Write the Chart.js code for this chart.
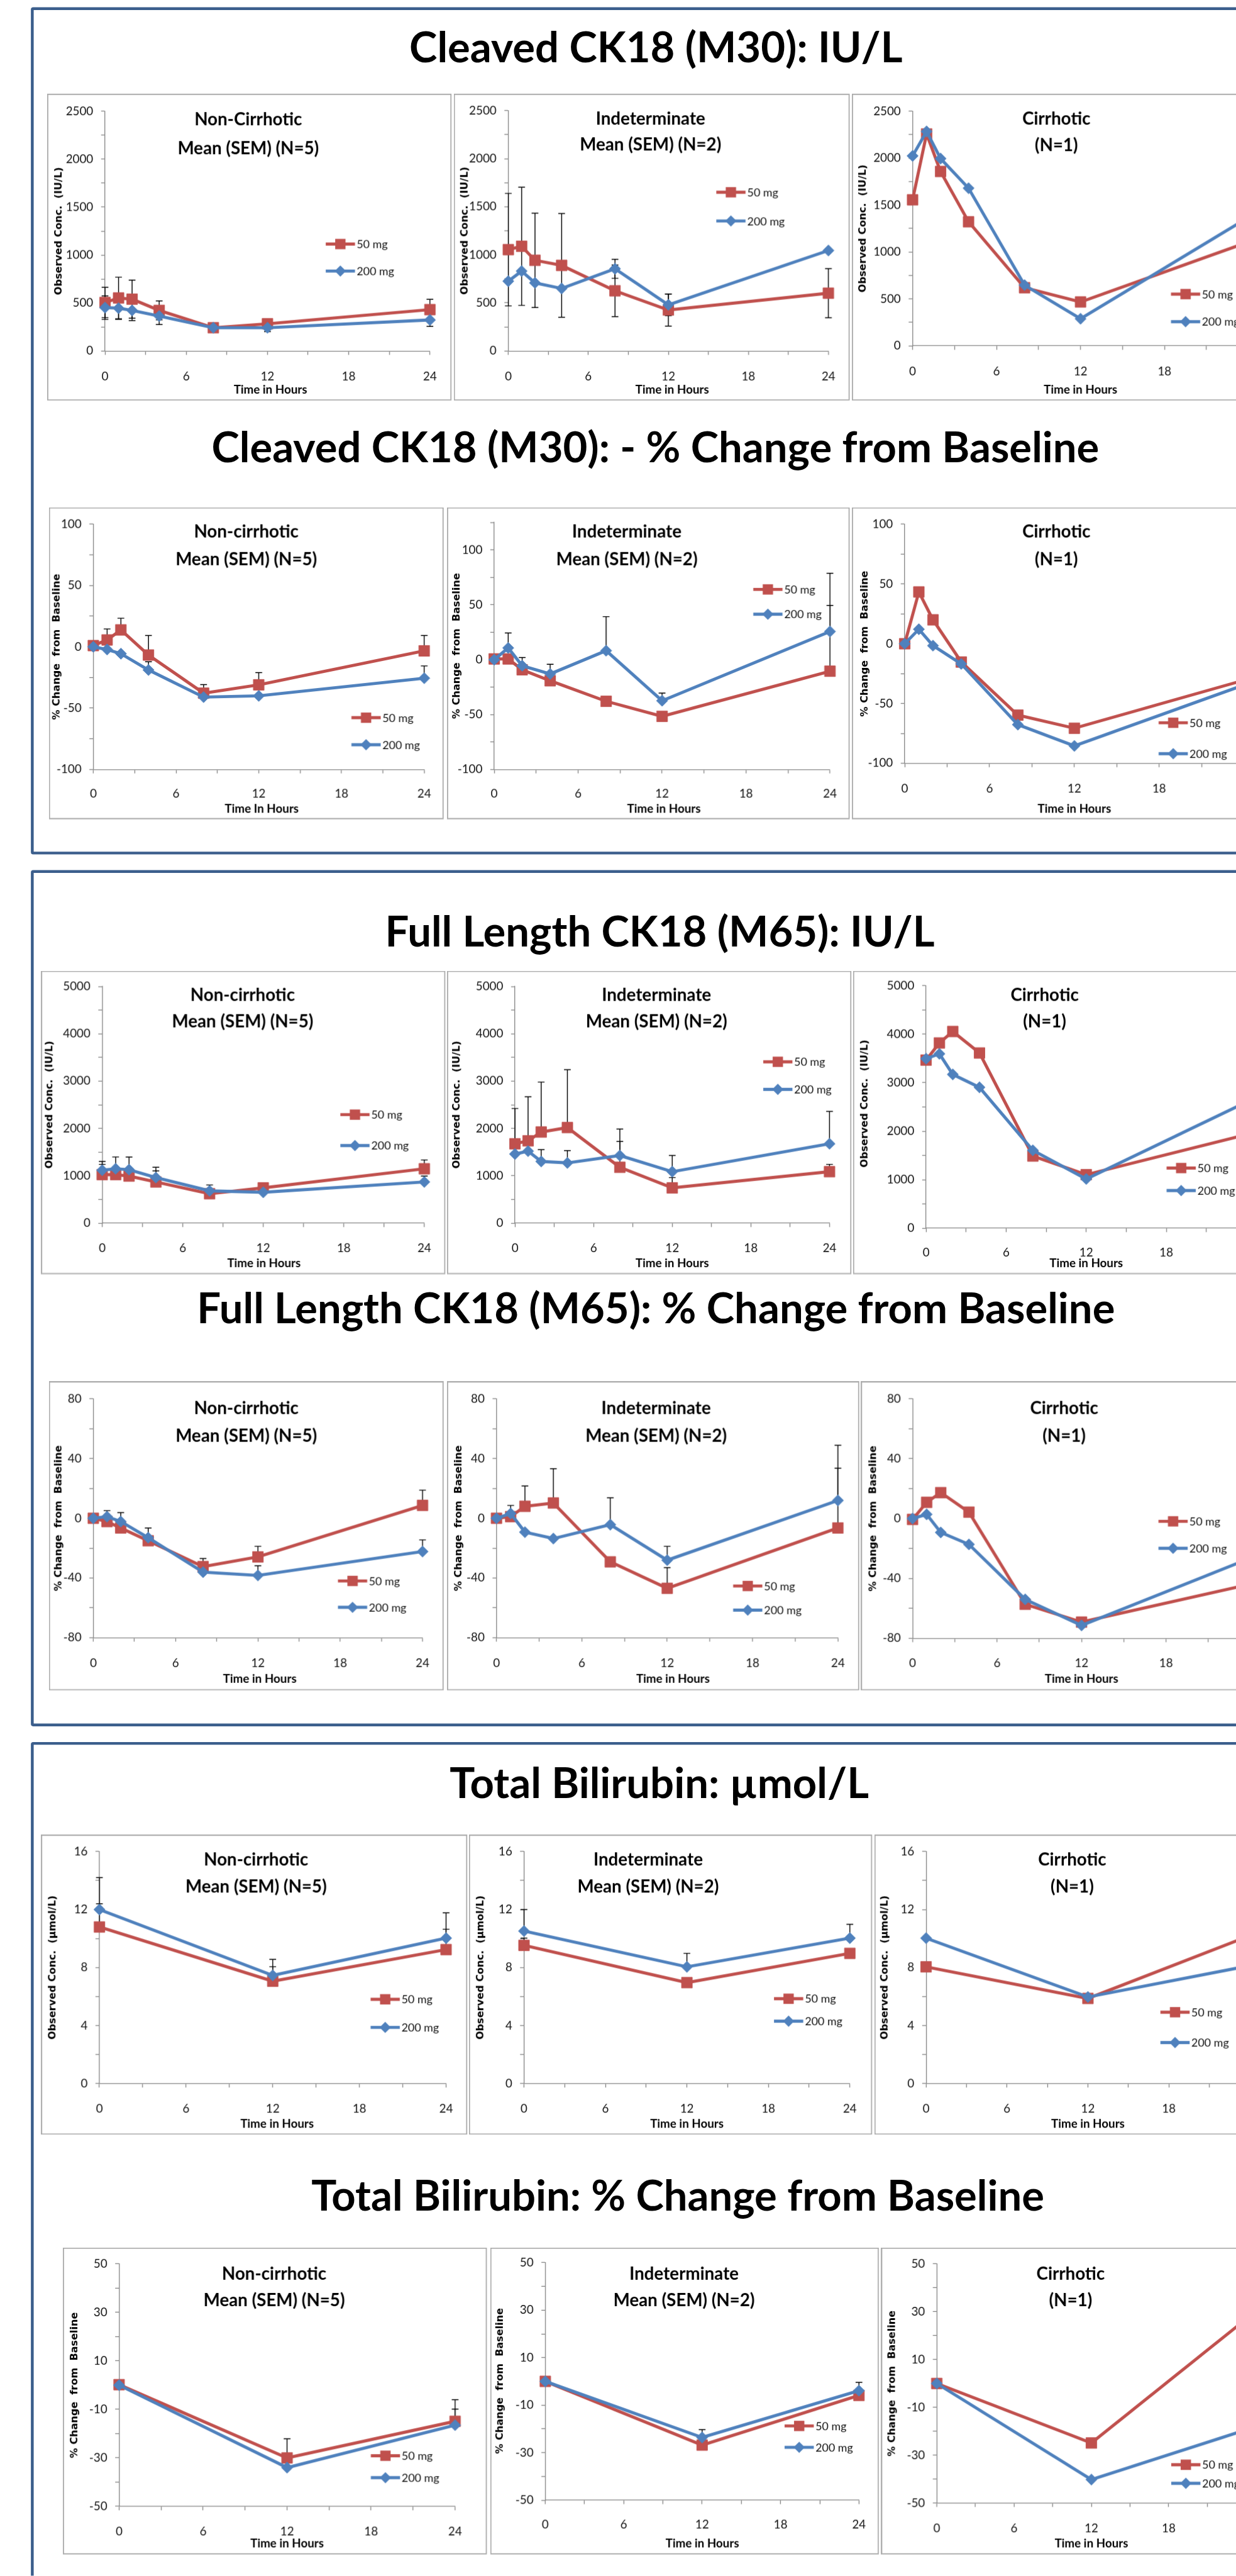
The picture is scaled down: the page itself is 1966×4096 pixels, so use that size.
<!DOCTYPE html>
<html>
<head>
<meta charset="utf-8">
<title>CK18 and bilirubin by hepatic status</title>
<script src="https://cdn.jsdelivr.net/npm/chart.js@4.4.1/dist/chart.umd.min.js"></script>
<style>
  html, body { margin: 0; padding: 0; background: #fff; overflow: hidden; }
  body { width: 1966px; height: 4096px; position: relative; }
  #page { position: absolute; left: 0; top: 0; width: 2201px; height: 4585px; overflow: hidden;
          transform: scale(0.89323); transform-origin: 0 0; }
  .section { position: absolute; box-sizing: border-box; border: 5px solid #3B5E8C; border-radius: 4px; }
  .heading { position: absolute; width: 2000px; text-align: center; white-space: nowrap;
             font: bold 75px Lato, sans-serif; line-height: 75px; color: #000; }
  .panel { position: absolute; }
  .panel canvas { display: block; }
  .frame { position: absolute; box-sizing: border-box; border: 2px solid #ABABAB; pointer-events: none; }
</style>
</head>
<body>
<div id="page"></div>
<script>
/* ===== DATA ===== */
const HOURS = [0, 1, 2, 4, 8, 12, 24];
const HOURS_BILI = [0, 12, 24];
const DOSES = ["50 mg", "200 mg"];

// y axis: min, max, minor step, label step
const Y_M30 = [0, 2500, 250, 500];
const Y_M30_PCT = [-100, 100, 25, 50];
const Y_M30_PCT_IND = [-100, 125, 25, 50];
const Y_M65 = [0, 5000, 500, 1000];
const Y_M65_PCT = [-80, 80, 20, 40];
const Y_BILI = [0, 16, 2, 4];
const Y_BILI_PCT = [-50, 50, 10, 20];

const HEADINGS = [
  "Cleaved CK18 (M30): IU/L",
  "Cleaved CK18 (M30): - % Change from Baseline",
  "Full Length CK18 (M65): IU/L",
  "Full Length CK18 (M65): % Change from Baseline",
  "Total Bilirubin: µmol/L",
  "Total Bilirubin: % Change from Baseline",
];

// Cleaved CK18 (M30), IU/L
const M30_NONCIR_50 = [505, 552, 540, 423, 242, 283, 431];
const M30_NONCIR_200 = [452, 446, 423, 364, 242, 242, 323];
const M30_NONCIR_50_SEM = [158, 217, 199, 99, 0, 0, 108];
const M30_NONCIR_200_SEM = [123, 117, 106, 88, 0, 40, 67];
const M30_INDET_50 = [1054, 1089, 943, 890, 626, 426, 601];
const M30_INDET_200 = [726, 831, 708, 650, 855, 480, 1045];
const M30_INDET_50_SEM = [585, 615, 491, 540, 269, 167, 256];
const M30_INDET_200_SEM = [0, 0, 0, 0, 99, 113, 0];
const M30_CIR_50 = [1556, 2258, 1858, 1322, 620, 468, 1108];
const M30_CIR_200 = [2024, 2285, 1996, 1680, 647, 289, 1370];

// Cleaved CK18 (M30), % change
const M30P_NONCIR_50 = [1, 5.6, 13.8, -6.7, -37.8, -31, -3.3];
const M30P_NONCIR_200 = [0, -2.2, -5.6, -18.9, -41, -40, -25.6];
const M30P_NONCIR_50_SEM = [0, 9, 9.5, 16, 7, 10, 12.6];
const M30P_NONCIR_200_SEM = [0, 0, 0, 6.7, 0, 0, 10];
const M30P_INDET_50 = [0.7, 0.7, -9.2, -19.2, -37.9, -51.6, -10.5];
const M30P_INDET_200 = [0, 10.7, -5.5, -13, 8.2, -37.4, 25.7];
const M30P_INDET_50_SEM = [0, 0, 0, 0, 0, 0, 60];
const M30P_INDET_200_SEM = [0, 13.7, 7.5, 8.8, 31, 7, 53];
const M30P_CIR_50 = [0, 43.3, 20, -15.3, -59.7, -70.7, -30.5];
const M30P_CIR_200 = [0, 12.1, -1.6, -16.9, -67.7, -85.5, -34.5];

// Full length CK18 (M65), IU/L
const M65_NONCIR_50 = [1025, 1025, 994, 870, 621, 745, 1149];
const M65_NONCIR_200 = [1118, 1149, 1130, 963, 683, 652, 870];
const M65_NONCIR_50_SEM = [217, 0, 0, 235, 0, 0, 186];
const M65_NONCIR_200_SEM = [186, 250, 268, 217, 124, 0, 124];
const M65_INDET_50 = [1677, 1739, 1925, 2019, 1180, 745, 1087];
const M65_INDET_200 = [1460, 1522, 1304, 1273, 1429, 1087, 1677];
const M65_INDET_50_SEM = [745, 932, 1056, 1223, 547, 218, 155];
const M65_INDET_200_SEM = [0, 0, 249, 261, 559, 342, 683];
const M65_CIR_50 = [3465, 3820, 4056, 3613, 1488, 1104, 1930];
const M65_CIR_200 = [3495, 3595, 3170, 2904, 1606, 1015, 2600];

// Full length CK18 (M65), % change
const M65P_NONCIR_50 = [0, -2.2, -6.5, -15.1, -32.4, -25.9, 8.6];
const M65P_NONCIR_200 = [0, 1.1, -2.2, -13, -36.1, -38.3, -22.3];
const M65P_NONCIR_50_SEM = [0, 0, 0, 8.6, 5.4, 7.1, 10.2];
const M65P_NONCIR_200_SEM = [0, 4, 6, 0, 0, 6.5, 7.8];
const M65P_INDET_50 = [0, 1.1, 8, 10.2, -29.2, -46.9, -6.5];
const M65P_INDET_200 = [0, 3.2, -9.3, -13.6, -4.3, -28.1, 11.9];
const M65P_INDET_50_SEM = [0, 0, 13.6, 23, 0, 13.8, 40];
const M65P_INDET_200_SEM = [0, 5.4, 0, 0, 18, 9.3, 37];
const M65P_CIR_50 = [-0.6, 10.8, 17.3, 4.3, -57.3, -69.2, -43.8];
const M65P_CIR_200 = [0, 2.8, -9.3, -17.3, -54, -71.4, -26.4];

// Total bilirubin, umol/L
const BILI_NONCIR_50 = [10.8, 7.06, 9.24];
const BILI_NONCIR_200 = [12.0, 7.46, 10.03];
const BILI_NONCIR_50_SEM = [1.6, 1.0, 1.4];
const BILI_NONCIR_200_SEM = [2.2, 1.1, 1.74];
const BILI_INDET_50 = [9.53, 6.96, 8.98];
const BILI_INDET_200 = [10.52, 8.05, 10.03];
const BILI_INDET_50_SEM = [0.5, 0, 0];
const BILI_INDET_200_SEM = [1.48, 0.93, 0.95];
const BILI_CIR_50 = [8.05, 5.87, 10.2];
const BILI_CIR_200 = [10.03, 5.97, 8.13];

// Total bilirubin, % change
const BILIP_NONCIR_50 = [0.2, -30, -14.9];
const BILIP_NONCIR_200 = [0, -34, -16.5];
const BILIP_NONCIR_50_SEM = [0, 7.9, 8.9];
const BILIP_NONCIR_200_SEM = [0, 0, 6.6];
const BILIP_INDET_50 = [0, -26.8, -5.9];
const BILIP_INDET_200 = [0, -23.6, -3.9];
const BILIP_INDET_50_SEM = [0, 0, 0];
const BILIP_INDET_200_SEM = [0, 3.3, 3.5];
const BILIP_CIR_50 = [0, -24.9, 26.9];
const BILIP_CIR_200 = [0, -40.2, -19.4];

/* ===== STYLE ===== */
const S = 1966 / 2201;
const RED = "#C0504D";
const BLUE = "#4F81BD";
const AXIS = "#868686";
const NC = ["Non-cirrhotic", "Mean (SEM) (N=5)"];
const IND = ["Indeterminate", "Mean (SEM) (N=2)"];
const CIR = ["Cirrhotic", "(N=1)"];
const YT_IU = "Observed Conc.  (IU/L)";
const YT_PCT = "% Change  from  Baseline";
const YT_UMOL = "Observed Conc.  (µmol/L)";

Chart.defaults.font.family = "Lato, 'Open Sans', sans-serif";
Chart.defaults.color = "#111";

/* ===== LAYOUT (reference pixels) ===== */
// heading: centre x, baseline y
const HEADING_POS = [[1168, 112], [1167, 824], [1175, 1686], [1168, 2356], [1174, 3202], [1207, 3936]];
const SECTIONS = [[13, 1521], [1549, 3073], [3101, 4700]];

const PANELS = [
  // M30 IU/L
  { box: [84, 167, 804, 713], axis: [187, 776, 198, 624], tickY: 670, xTitleY: 693, sub: [442, 213, 264], legend: [580, 434, 482], yTitleX: 105,
    titles: ["Non-Cirrhotic", "Mean (SEM) (N=5)"], yTitle: YT_IU, yAxis: Y_M30, hours: HOURS, both: true,
    d50: M30_NONCIR_50, d200: M30_NONCIR_200, e50: M30_NONCIR_50_SEM, e200: M30_NONCIR_200_SEM },
  { box: [808, 167, 1513, 713], axis: [905, 1488, 197, 624], tickY: 670, xTitleY: 693, sub: [1158, 212, 258], legend: [1275, 342, 393], yTitleX: 828,
    titles: IND, yTitle: YT_IU, yAxis: Y_M30, hours: HOURS, both: true,
    d50: M30_INDET_50, d200: M30_INDET_200, e50: M30_INDET_50_SEM, e200: M30_INDET_200_SEM },
  { box: [1517, 167, 2320, 713], axis: [1625, 2223, 198, 615], tickY: 661, xTitleY: 693, sub: [1881, 212, 259], legend: [2085, 523, 572], yTitleX: 1537,
    titles: CIR, yTitle: YT_IU, yAxis: Y_M30, hours: HOURS,
    d50: M30_CIR_50, d200: M30_CIR_200 },
  // M30 % change
  { box: [87, 903, 790, 1458], axis: [166, 765, 933, 1369], tickY: 1412, xTitleY: 1439, sub: [438, 947, 996], legend: [625, 1277, 1325], yTitleX: 101,
    titles: NC, yTitle: YT_PCT, xTitle: "Time In Hours", yAxis: Y_M30_PCT, hours: HOURS,
    d50: M30P_NONCIR_50, d200: M30P_NONCIR_200, e50: M30P_NONCIR_50_SEM, e200: M30P_NONCIR_200_SEM },
  { box: [796, 903, 1513, 1458], axis: [880, 1484, 930, 1369], tickY: 1412, xTitleY: 1439, sub: [1116, 947, 996], legend: [1341, 1049, 1093], yTitleX: 814,
    titles: IND, yTitle: YT_PCT, yAxis: Y_M30_PCT_IND, hours: HOURS,
    d50: M30P_INDET_50, d200: M30P_INDET_200, e50: M30P_INDET_50_SEM, e200: M30P_INDET_200_SEM },
  { box: [1517, 903, 2320, 1458], axis: [1611, 2215, 933, 1358], tickY: 1403, xTitleY: 1439, sub: [1881, 947, 996], legend: [2063, 1286, 1341], yTitleX: 1540,
    titles: CIR, yTitle: YT_PCT, yAxis: Y_M30_PCT, hours: HOURS,
    d50: M30P_CIR_50, d200: M30P_CIR_200 },
  // M65 IU/L
  { box: [73, 1728, 793, 2268], axis: [182, 758, 1756, 2177], tickY: 2222, xTitleY: 2248, sub: [432, 1772, 1819], legend: [606, 1984, 2039], yTitleX: 88,
    titles: NC, yTitle: YT_IU, yAxis: Y_M65, hours: HOURS,
    d50: M65_NONCIR_50, d200: M65_NONCIR_200, e50: M65_NONCIR_50_SEM, e200: M65_NONCIR_200_SEM },
  { box: [796, 1728, 1516, 2268], axis: [917, 1477, 1756, 2177], tickY: 2222, xTitleY: 2248, sub: [1169, 1772, 1819], legend: [1359, 1890, 1939], yTitleX: 814,
    titles: IND, yTitle: YT_IU, yAxis: Y_M65, hours: HOURS,
    d50: M65_INDET_50, d200: M65_INDET_200, e50: M65_INDET_50_SEM, e200: M65_INDET_200_SEM },
  { box: [1519, 1728, 2320, 2268], axis: [1649, 2219, 1743, 2186], tickY: 2230, xTitleY: 2248, sub: [1860, 1772, 1819], legend: [2077, 2079, 2119], yTitleX: 1540,
    titles: CIR, yTitle: YT_IU, yAxis: Y_M65, hours: HOURS,
    d50: M65_CIR_50, d200: M65_CIR_200 },
  // M65 % change
  { box: [87, 2459, 790, 3009], axis: [166, 758, 2490, 2915], tickY: 2961, xTitleY: 2989, sub: [438, 2507, 2556], legend: [601, 2814, 2861], yTitleX: 105,
    titles: NC, yTitle: YT_PCT, yAxis: Y_M65_PCT, hours: HOURS,
    d50: M65P_NONCIR_50, d200: M65P_NONCIR_200, e50: M65P_NONCIR_50_SEM, e200: M65P_NONCIR_200_SEM },
  { box: [796, 2459, 1530, 3009], axis: [884, 1512, 2490, 2915], tickY: 2961, xTitleY: 2989, sub: [1168, 2507, 2556], legend: [1305, 2823, 2866], yTitleX: 817,
    titles: IND, yTitle: YT_PCT, yAxis: Y_M65_PCT, hours: HOURS,
    d50: M65P_INDET_50, d200: M65P_INDET_200, e50: M65P_INDET_50_SEM, e200: M65P_INDET_200_SEM },
  { box: [1533, 2459, 2320, 3009], axis: [1625, 2227, 2490, 2916], tickY: 2961, xTitleY: 2989, sub: [1895, 2507, 2556], legend: [2063, 2708, 2756], yTitleX: 1555,
    titles: CIR, yTitle: YT_PCT, yAxis: Y_M65_PCT, hours: HOURS,
    d50: M65P_CIR_50, d200: M65P_CIR_200 },
  // bilirubin umol/L
  { box: [73, 3266, 832, 3800], axis: [177, 810, 3296, 3709], tickY: 3754, xTitleY: 3781, sub: [456, 3311, 3359], legend: [660, 3559, 3609], yTitleX: 94,
    titles: NC, yTitle: YT_UMOL, yAxis: Y_BILI, hours: HOURS_BILI,
    d50: BILI_NONCIR_50, d200: BILI_NONCIR_200, e50: BILI_NONCIR_50_SEM, e200: BILI_NONCIR_200_SEM },
  { box: [835, 3266, 1553, 3800], axis: [933, 1513, 3296, 3709], tickY: 3754, xTitleY: 3781, sub: [1154, 3311, 3359], legend: [1378, 3558, 3598], yTitleX: 856,
    titles: IND, yTitle: YT_UMOL, yAxis: Y_BILI, hours: HOURS_BILI,
    d50: BILI_INDET_50, d200: BILI_INDET_200, e50: BILI_INDET_50_SEM, e200: BILI_INDET_200_SEM },
  { box: [1557, 3266, 2320, 3800], axis: [1649, 2225, 3296, 3709], tickY: 3754, xTitleY: 3781, sub: [1909, 3311, 3359], legend: [2066, 3582, 3636], yTitleX: 1576,
    titles: CIR, yTitle: YT_UMOL, yAxis: Y_BILI, hours: HOURS_BILI,
    d50: BILI_CIR_50, d200: BILI_CIR_200 },
  // bilirubin % change
  { box: [112, 4001, 867, 4547], axis: [212, 810, 4030, 4461], tickY: 4506, xTitleY: 4527, sub: [488, 4048, 4095], legend: [660, 4371, 4410], yTitleX: 133,
    titles: NC, yTitle: YT_PCT, yAxis: Y_BILI_PCT, hours: HOURS_BILI,
    d50: BILIP_NONCIR_50, d200: BILIP_NONCIR_200, e50: BILIP_NONCIR_50_SEM, e200: BILIP_NONCIR_200_SEM },
  { box: [873, 4001, 1565, 4547], axis: [971, 1530, 4026, 4450], tickY: 4493, xTitleY: 4527, sub: [1218, 4048, 4095], legend: [1397, 4318, 4356], yTitleX: 891,
    titles: IND, yTitle: YT_PCT, yAxis: Y_BILI_PCT, hours: HOURS_BILI,
    d50: BILIP_INDET_50, d200: BILIP_INDET_200, e50: BILIP_INDET_50_SEM, e200: BILIP_INDET_200_SEM },
  { box: [1569, 4001, 2320, 4547], axis: [1668, 2218, 4030, 4455], tickY: 4500, xTitleY: 4527, sub: [1906, 4048, 4095], legend: [2085, 4387, 4420], yTitleX: 1589,
    titles: CIR, yTitle: YT_PCT, yAxis: Y_BILI_PCT, hours: HOURS_BILI,
    d50: BILIP_CIR_50, d200: BILIP_CIR_200 },
];

/* ===== HELPERS ===== */
const page = document.getElementById("page");

function addDiv(cls, css, text) {
  const d = document.createElement("div");
  d.className = cls;
  Object.assign(d.style, css);
  if (text) d.textContent = text;
  page.appendChild(d);
  return d;
}

function px(v) {
  return v + "px";
}

function drawMarker(ctx, style, x, y, r) {
  ctx.beginPath();
  if (style === "rect") {
    const h = r * Math.SQRT1_2;
    ctx.rect(x - h, y - h, 2 * h, 2 * h);
  } else {
    ctx.moveTo(x - r, y);
    ctx.lineTo(x, y - r);
    ctx.lineTo(x + r, y);
    ctx.lineTo(x, y + r);
    ctx.closePath();
  }
  ctx.fill();
}

/* ===== PANEL DECOR: error bars, titles, legend ===== */
function decor(p, series) {
  const ox = p.box[0];
  const oy = p.box[1];
  return {
    id: "decor",
    beforeDatasetsDraw(chart) {
      const ctx = chart.ctx;
      const ys = chart.scales.y;
      ctx.save();
      ctx.strokeStyle = "#000";
      ctx.lineWidth = 1.6;
      series.forEach((s) => {
        if (!s.err) return;
        const meta = chart.getDatasetMeta(s.index);
        meta.data.forEach((pt, i) => {
          const e = s.err[i];
          if (!e) return;
          const v = s.values[i];
          const top = ys.getPixelForValue(v + e);
          const bot = p.both ? ys.getPixelForValue(v - e) : pt.y;
          ctx.beginPath();
          ctx.moveTo(pt.x, top);
          ctx.lineTo(pt.x, bot);
          ctx.moveTo(pt.x - 6, top);
          ctx.lineTo(pt.x + 6, top);
          if (p.both) {
            ctx.moveTo(pt.x - 6, bot);
            ctx.lineTo(pt.x + 6, bot);
          }
          ctx.stroke();
        });
      });
      ctx.restore();
    },
    afterDraw(chart) {
      const ctx = chart.ctx;
      const [x0, x24, yTop, yBot] = p.axis;
      ctx.save();
      ctx.fillStyle = "#000";
      ctx.textAlign = "center";
      ctx.textBaseline = "middle";

      ctx.font = "bold 31px Lato";
      ctx.fillText(p.titles[0], p.sub[0] - ox, p.sub[1] - oy);
      ctx.fillText(p.titles[1], p.sub[0] - ox, p.sub[2] - oy);

      ctx.font = "bold 21px Lato";
      ctx.fillText(p.xTitle || "Time in Hours", (x0 + x24) / 2 - ox, p.xTitleY - oy);

      ctx.save();
      ctx.translate(p.yTitleX - ox, (yTop + yBot) / 2 - oy);
      ctx.rotate(-Math.PI / 2);
      ctx.font = "bold 18px 'DejaVu Sans'";
      ctx.fillText(p.yTitle, 0, 0);
      ctx.restore();

      // legend
      series.forEach((s, k) => {
        const lx = p.legend[0] - ox;
        const ly = p.legend[1 + k] - oy;
        ctx.strokeStyle = s.color;
        ctx.lineWidth = 5.5;
        ctx.beginPath();
        ctx.moveTo(lx, ly);
        ctx.lineTo(lx + 52, ly);
        ctx.stroke();
        ctx.fillStyle = s.color;
        drawMarker(ctx, s.style, lx + 26, ly, s.style === "rect" ? 13 : 10);
        ctx.fillStyle = "#111";
        ctx.textAlign = "left";
        ctx.font = "20px Lato";
        ctx.fillText(s.label, lx + 55, ly + 1);
      });
      ctx.restore();
    },
  };
}

/* ===== BUILD ===== */
SECTIONS.forEach(([t, b]) => {
  addDiv("section", { left: px(55), top: px(t), width: px(2400), height: px(b - t) });
});

HEADINGS.forEach((txt, i) => {
  const [cx, base] = HEADING_POS[i];
  addDiv("heading", { left: px(cx - 1000), top: px(base - 0.887 * 75) }, txt);
});

function makePanel(p) {
  const [l, t, r, b] = p.box;
  const [x0, x24, yTop, yBot] = p.axis;
  const [ymin, ymax, ystep, ylab] = p.yAxis;
  const W = r - l;
  const H = b - t;

  const wrap = addDiv("panel", { left: px(l), top: px(t), width: px(W), height: px(H) });
  const canvas = document.createElement("canvas");
  wrap.appendChild(canvas);
  addDiv("frame", { left: px(l), top: px(t), width: px(W), height: px(H) });

  const series = [
    { index: 0, label: DOSES[1], values: p.d200, err: p.e200, color: BLUE, style: "rectRot", r: 10, order: 0 },
    { index: 1, label: DOSES[0], values: p.d50, err: p.e50, color: RED, style: "rect", r: 13.5, order: 1 },
  ];
  const legendOrder = [series[1], series[0]];

  const gridOpts = { display: true, drawOnChartArea: false, drawTicks: true, tickLength: 7, tickWidth: 1.5, tickColor: AXIS };
  const borderOpts = { display: true, color: AXIS, width: 1.5 };

  new Chart(canvas, {
    type: "line",
    data: {
      datasets: series.map((s) => ({
        label: s.label,
        data: p.hours.map((h, i) => ({ x: h, y: s.values[i] })),
        borderColor: s.color,
        backgroundColor: s.color,
        borderWidth: 5.5,
        pointStyle: s.style,
        pointRadius: s.r,
        pointBackgroundColor: s.color,
        pointBorderColor: s.color,
        pointBorderWidth: 1,
        tension: 0,
        order: s.order,
        clip: false,
      })),
    },
    options: {
      responsive: true,
      maintainAspectRatio: false,
      animation: false,
      devicePixelRatio: S,
      events: [],
      layout: { padding: { left: 0, top: yTop - t, right: r - x24, bottom: 0 } },
      plugins: { legend: { display: false }, tooltip: { enabled: false }, title: { display: false } },
      scales: {
        x: {
          type: "linear",
          min: 0,
          max: 24,
          ticks: {
            stepSize: 3,
            autoSkip: false,
            maxRotation: 0,
            padding: p.tickY - yBot - 7 - 12.6,
            font: { size: 21 },
            color: "#111",
            callback: (v) => (v % 6 === 0 ? String(v) : ""),
          },
          grid: gridOpts,
          border: borderOpts,
          afterFit: (s) => { s.height = b - yBot; },
        },
        y: {
          type: "linear",
          min: ymin,
          max: ymax,
          ticks: {
            stepSize: ystep,
            autoSkip: false,
            padding: 14,
            font: { size: 21 },
            color: "#111",
            callback: (v) => {
              const k = (v - ymin) / ylab;
              return Math.abs(k - Math.round(k)) < 1e-6 ? String(v) : "";
            },
          },
          grid: gridOpts,
          border: borderOpts,
          afterFit: (s) => { s.width = x0 - l; },
        },
      },
    },
    plugins: [decor(p, legendOrder)],
  });
}

PANELS.forEach(makePanel);
</script>
</body>
</html>
